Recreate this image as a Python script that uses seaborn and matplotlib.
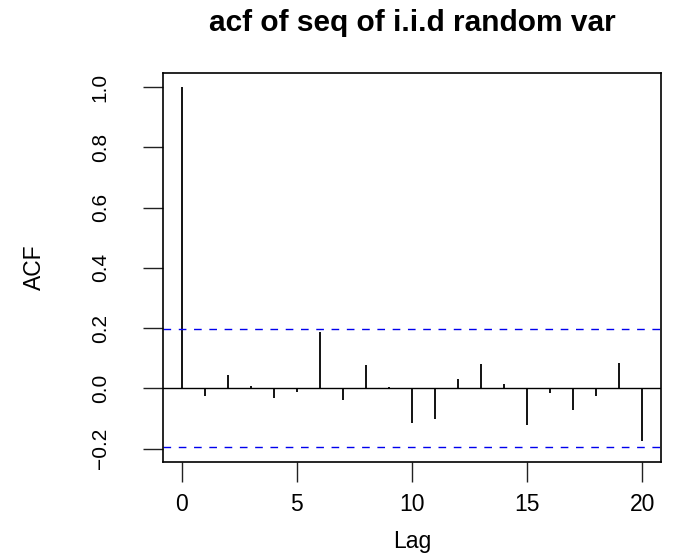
import matplotlib
matplotlib.use("Agg")
import matplotlib.pyplot as plt
import seaborn as sns
import numpy as np
import pandas as pd

# Sample autocorrelations of an i.i.d. sequence (n = 100), lags 0..20
lags = list(range(21))
acf_values = [1.000, -0.024, 0.043, 0.009, -0.033, -0.011, 0.188, -0.038,
              0.078, 0.004, -0.116, -0.102, 0.032, 0.081, 0.014, -0.122,
              -0.015, -0.072, -0.025, 0.083, -0.175]
n_obs = 100
conf_bound = 1.96 / np.sqrt(n_obs)

y_ticks = [-0.2, 0.0, 0.2, 0.4, 0.6, 0.8, 1.0]
y_tick_labels = ["\u22120.2", "0.0", "0.2", "0.4", "0.6", "0.8", "1.0"]
x_ticks = [0, 5, 10, 15, 20]

df = pd.DataFrame({"lag": lags, "acf": acf_values})

sns.set_theme(style="ticks")
plt.rcParams["font.family"] = ["Liberation Sans", "DejaVu Sans"]

fig = plt.figure(figsize=(6.81, 5.55), dpi=100)
ax = fig.add_axes([0.2398, 0.1681, 0.7304, 0.7009])

# spikes from zero to each autocorrelation
ax.vlines(df["lag"], 0, df["acf"], color="black", linewidth=1.3)
ax.axhline(0, color="black", linewidth=1.0)
for b in (conf_bound, -conf_bound):
    ax.axhline(b, color="#0000ee", linewidth=1.0, linestyle=(0, (5.5, 5.5)))

ax.set_xlim(-0.8, 20.8)
ax.set_ylim(-0.2437, 1.0478)
ax.set_xticks(x_ticks)
ax.set_xticklabels([str(t) for t in x_ticks])
ax.set_yticks(y_ticks)
ax.set_yticklabels(y_tick_labels, rotation=90, va="center")

for s in ax.spines.values():
    s.set_visible(True)
    s.set_color("black")
    s.set_linewidth(1.2)

ax.tick_params(axis="both", direction="out", length=14.5, width=1.0,
               color="#222222", labelcolor="black")
ax.tick_params(axis="x", labelsize=16.5, pad=8)
ax.tick_params(axis="y", labelsize=15, pad=24)

ax.set_xlabel("Lag", fontsize=16.5, labelpad=10, color="black")
ax.set_ylabel("ACF", fontsize=16.5, labelpad=32, color="black")
ax.set_title("acf of seq of i.i.d random var", fontsize=21.5,
             fontweight="bold", pad=30, color="black")

fig.savefig("out.png", dpi=100, facecolor="white")
